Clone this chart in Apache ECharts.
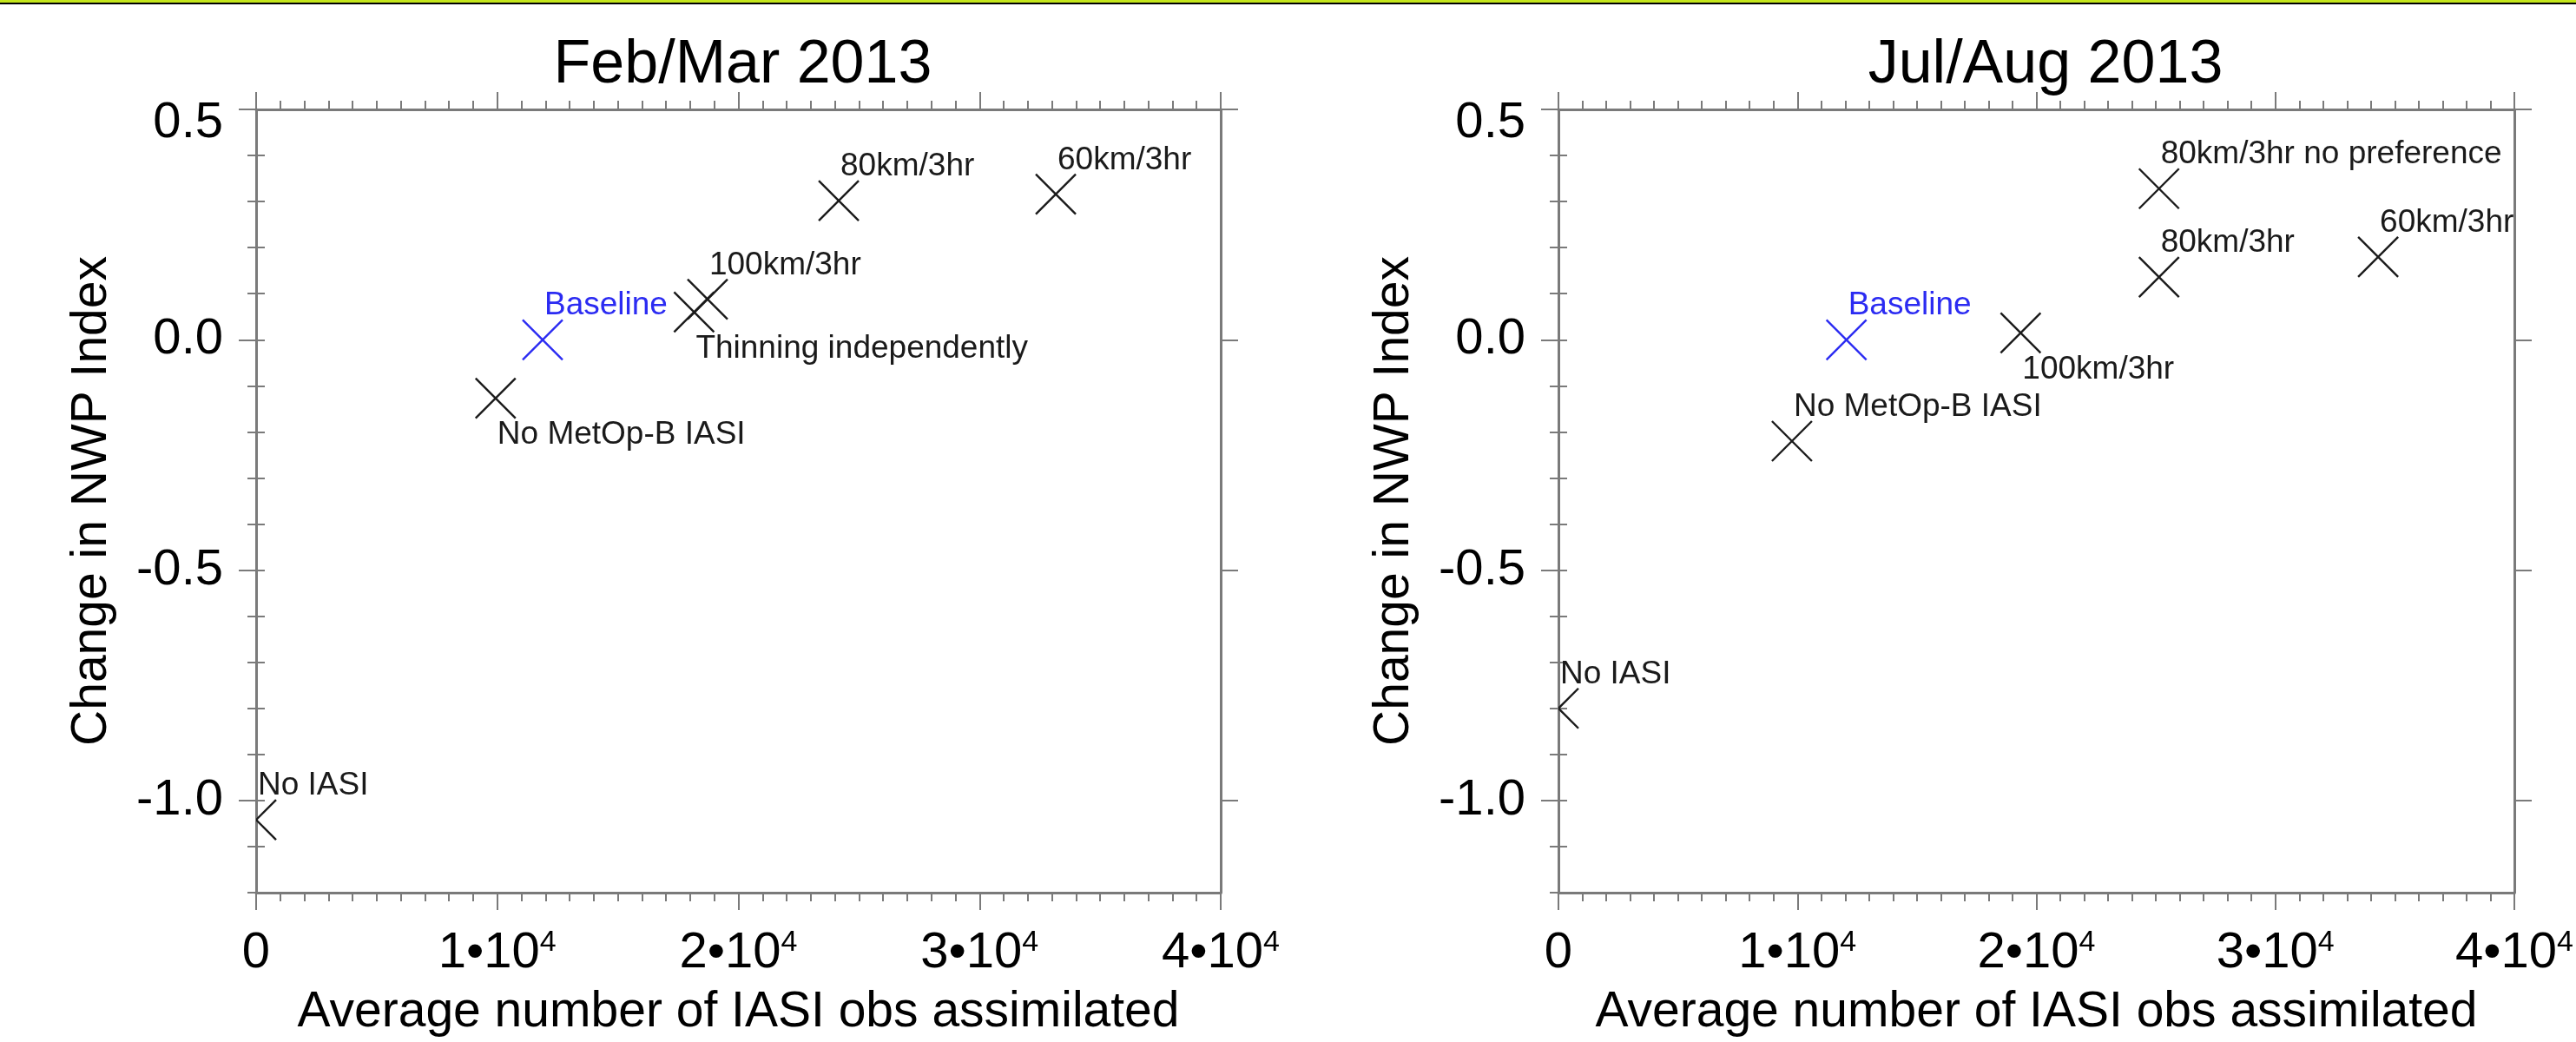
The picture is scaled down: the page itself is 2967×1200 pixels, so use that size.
<!DOCTYPE html>
<html>
<head>
<meta charset="utf-8">
<script src="https://cdn.jsdelivr.net/npm/echarts@6/dist/echarts.min.js"></script>
<style>
  html, body { margin: 0; padding: 0; background: #fff; }
  #chart { width: 2967px; height: 1200px; }
</style>
</head>
<body>
<div id="chart"></div>
<script>
// Feb/Mar 2013 experiments
const febNames = ['No IASI', 'No MetOp-B IASI', 'Baseline', 'Thinning independently', '100km/3hr', '80km/3hr', '60km/3hr']
const febObs = [0, 9930, 11880, 18160, 18720, 24160, 33160]
const febChange = [-1.042, -0.127, 0.0, 0.060, 0.088, 0.302, 0.316]
const febLabelSide = ['above', 'below', 'above', 'below', 'above', 'above', 'above']

// Jul/Aug 2013 experiments
const julNames = ['No IASI', 'No MetOp-B IASI', 'Baseline', '100km/3hr', '80km/3hr', '80km/3hr no preference', '60km/3hr']
const julObs = [0, 9770, 12050, 19340, 25130, 25130, 34300]
const julChange = [-0.800, -0.220, 0.0, 0.015, 0.136, 0.328, 0.180]
const julLabelSide = ['above', 'above', 'above', 'below', 'above', 'above', 'above']

const panelTitles = ['Feb/Mar 2013', 'Jul/Aug 2013']
const yMajorTicks = [-1.0, -0.5, 0.0, 0.5]

const FONT = '"Liberation Sans", Arial, Helvetica, sans-serif'
const AXIS = '#7a7a7a'
const INK = '#1a1a1a'
const BLUE = '#2b2bf2'

const chart = echarts.init(document.getElementById('chart'))

const grids = [
  { left: 295, top: 126, width: 1111, height: 913 },
  { left: 1795, top: 126, width: 1112, height: 913 },
]

const lineStyle = { color: AXIS, width: 3 }
const tickStyle = { color: AXIS, width: 2 }

function xAxes(g) {
  const base = {
    gridIndex: g, type: 'value', min: 0, max: 40000, interval: 10000,
    axisLine: { show: true, onZero: false, lineStyle },
    axisTick: { show: true, inside: false, length: 20, lineStyle: tickStyle },
    minorTick: { show: true, splitNumber: 10, length: 10, lineStyle: tickStyle },
    splitLine: { show: false },
  }
  return [
    {
      ...base, position: 'bottom',
      axisLabel: {
        margin: 41, color: '#000',
        formatter: v => v === 0 ? '{n|0}' : `{n|${v / 10000}•10}{s|4}`,
        rich: {
          n: { fontSize: 58, fontFamily: FONT, color: '#000', lineHeight: 58 },
          s: { fontSize: 34, fontFamily: FONT, color: '#000', verticalAlign: 'top', lineHeight: 24 },
        },
      },
      name: 'Average number of IASI obs assimilated',
      nameLocation: 'middle', nameGap: 110,
      nameTextStyle: { fontSize: 57, fontFamily: FONT, color: '#000' },
    },
    { ...base, position: 'top', axisLabel: { show: false } },
  ]
}

function yAxes(g) {
  const base = {
    gridIndex: g, type: 'value', min: -1.2, max: 0.5, interval: 0.1,
    splitLine: { show: false },
  }
  const minor = side => ({
    ...base, position: side,
    axisLine: { show: false },
    axisTick: { show: true, inside: false, length: 10, lineStyle: tickStyle },
    axisLabel: { show: false },
  })
  return [
    {
      ...base, position: 'left',
      axisLine: { show: true, onZero: false, lineStyle },
      axisTick: { show: true, inside: false, length: 20, lineStyle: tickStyle, customValues: yMajorTicks },
      axisLabel: {
        customValues: yMajorTicks, margin: 38, color: '#000',
        formatter: v => v > 0.49 ? '{t|' + v.toFixed(1) + '}' : '{n|' + v.toFixed(1) + '}',
        rich: {
          n: { fontSize: 58, fontFamily: FONT, color: '#000' },
          t: { fontSize: 58, fontFamily: FONT, color: '#000', padding: [32, 0, 0, 0] },
        },
      },
      name: 'Change in NWP Index',
      nameLocation: 'middle', nameRotate: 90, nameGap: 160,
      nameTextStyle: { fontSize: 57, fontFamily: FONT, color: '#000' },
    },
    minor('left'),
    {
      ...base, position: 'right',
      axisLine: { show: true, onZero: false, lineStyle },
      axisTick: { show: true, inside: false, length: 20, lineStyle: tickStyle, customValues: yMajorTicks },
      axisLabel: { show: false },
    },
    minor('right'),
  ]
}

function crossRender(names) {
  return (params, api) => {
    const c = api.coord([api.value(0), api.value(1)])
    const col = names[params.dataIndex] === 'Baseline' ? BLUE : INK
    const s = 23
    return {
      type: 'group',
      children: [
        { type: 'line', shape: { x1: c[0] - s, y1: c[1] - s, x2: c[0] + s, y2: c[1] + s }, style: { stroke: col, lineWidth: 2.4 } },
        { type: 'line', shape: { x1: c[0] - s, y1: c[1] + s, x2: c[0] + s, y2: c[1] - s }, style: { stroke: col, lineWidth: 2.4 } },
      ],
    }
  }
}

function labelRender(names, sides) {
  return (params, api) => {
    const c = api.coord([api.value(0), api.value(1)])
    const i = params.dataIndex
    return {
      type: 'text',
      x: c[0] + 2,
      y: c[1] + (sides[i] === 'below' ? 42 : -39),
      style: {
        text: names[i],
        fill: names[i] === 'Baseline' ? BLUE : INK,
        font: '37px ' + FONT,
        align: 'left',
        verticalAlign: 'middle',
      },
    }
  }
}

function panelSeries(g, xs, ys, names, sides) {
  const data = xs.map((x, i) => [x, ys[i]])
  return [
    {
      type: 'custom', xAxisIndex: g * 2, yAxisIndex: g * 4, clip: true,
      data, encode: { x: 0, y: 1 }, renderItem: crossRender(names), z: 3,
    },
    {
      type: 'custom', xAxisIndex: g * 2, yAxisIndex: g * 4, clip: false,
      data, encode: { x: 0, y: 1 }, renderItem: labelRender(names, sides), z: 4,
    },
  ]
}

chart.setOption({
  animation: false,
  backgroundColor: '#fff',
  title: panelTitles.map((t, i) => ({
    text: t,
    left: grids[i].left + grids[i].width / 2,
    top: 36,
    textAlign: 'center',
    textStyle: { fontSize: 70, fontWeight: 'normal', fontFamily: FONT, color: '#000' },
  })),
  grid: grids,
  xAxis: [...xAxes(0), ...xAxes(1)],
  yAxis: [...yAxes(0), ...yAxes(1)],
  graphic: [
    { type: 'rect', left: 0, top: 0, shape: { width: 2967, height: 3 }, style: { fill: '#c4e61c' } },
    { type: 'rect', left: 0, top: 3, shape: { width: 2967, height: 2 }, style: { fill: '#000' } },
  ],
  series: [
    ...panelSeries(0, febObs, febChange, febNames, febLabelSide),
    ...panelSeries(1, julObs, julChange, julNames, julLabelSide),
  ],
})
</script>
</body>
</html>
